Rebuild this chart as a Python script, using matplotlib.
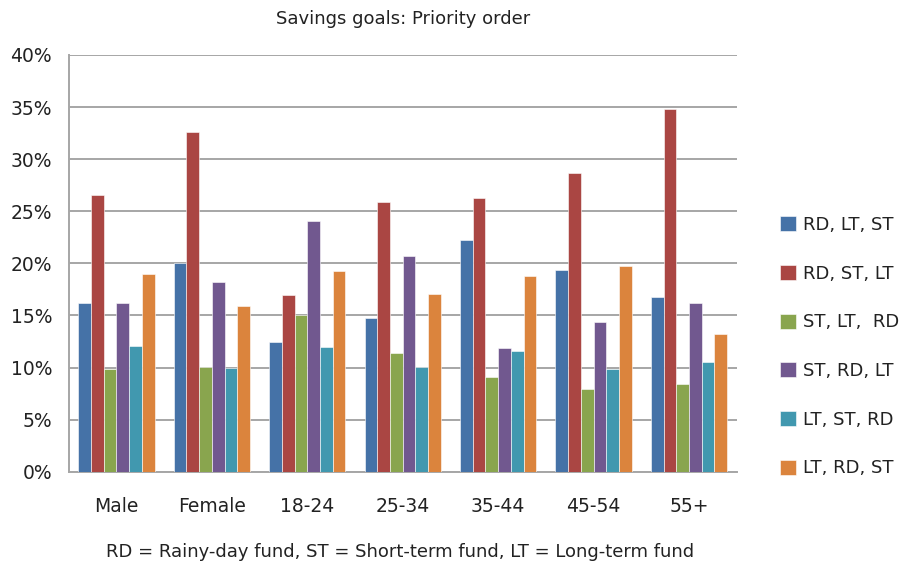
import numpy as np
import matplotlib
matplotlib.use("Agg")
import matplotlib.pyplot as plt
from matplotlib.ticker import FuncFormatter

categories = ["Male", "Female", "18-24", "25-34", "35-44", "45-54", "55+"]
series_names = ["RD, LT, ST", "RD, ST, LT", "ST, LT,  RD", "ST, RD, LT", "LT, ST, RD", "LT, RD, ST"]

rd_lt_st = [16.2, 20.0, 12.5, 14.8, 22.2, 19.4, 16.8]
rd_st_lt = [26.6, 32.6, 17.0, 25.9, 26.3, 28.7, 34.8]
st_lt_rd = [9.9, 10.1, 15.0, 11.4, 9.1, 7.9, 8.4]
st_rd_lt = [16.2, 18.2, 24.1, 20.7, 11.9, 14.4, 16.2]
lt_st_rd = [12.1, 10.0, 12.0, 10.1, 11.6, 9.9, 10.5]
lt_rd_st = [19.0, 15.9, 19.3, 17.1, 18.8, 19.7, 13.2]

colors = ["#4572A7", "#AA4643", "#89A54E", "#71588F", "#4198AF", "#DB843D"]

plt.rcParams['font.family'] = ['DejaVu Sans']

fig = plt.figure(figsize=(9.05, 5.67), dpi=100)
ax = fig.add_axes([0.076, 0.168, 0.738, 0.735])

x = np.arange(len(categories))
w = 0.8 / 6
all_series = [rd_lt_st, rd_st_lt, st_lt_rd, st_rd_lt, lt_st_rd, lt_rd_st]
for i, vals in enumerate(all_series):
    ax.bar(x - 0.4 + w * (i + 0.5), vals, width=w, color=colors[i],
           edgecolor="white", linewidth=0.4, label=series_names[i], zorder=3)

ax.set_xlim(-0.5, len(categories) - 0.5)
ax.set_ylim(0, 40)
ax.set_yticks(np.arange(0, 41, 5))
ax.yaxis.set_major_formatter(FuncFormatter(lambda v, p: "%d%%" % v))
ax.grid(axis="y", color="#a6a6a6", linewidth=1.4, zorder=0)
ax.set_xticks(x)
ax.set_xticklabels(categories)
ax.tick_params(axis="both", length=0, labelsize=13.5, colors="#222222")
ax.tick_params(axis="x", pad=18)
ax.tick_params(axis="y", pad=12)
for s in ["top", "right"]:
    ax.spines[s].set_visible(False)
for s in ["left", "bottom"]:
    ax.spines[s].set_color("#a6a6a6")
    ax.spines[s].set_linewidth(1.4)

ax.set_title("Savings goals: Priority order", fontsize=13, pad=22, color="#222222")

ax.legend(loc="center left", bbox_to_anchor=(1.04, 0.3), frameon=False,
          fontsize=13, handlelength=0.9, handleheight=0.9, handletextpad=0.4,
          labelspacing=1.7, labelcolor="#222222")

fig.text(0.442, 0.027, "RD = Rainy-day fund, ST = Short-term fund, LT = Long-term fund",
         ha="center", va="center", fontsize=13, color="#222222")

fig.savefig("out.png", dpi=100)
